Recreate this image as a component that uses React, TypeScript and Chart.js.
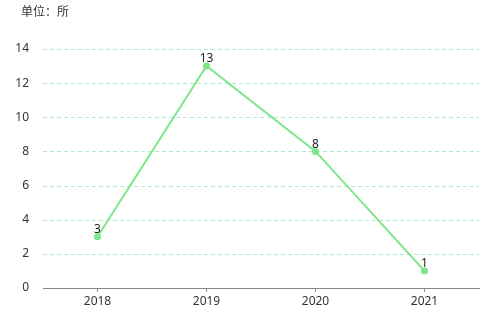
import React, { useEffect, useRef } from "react";
import { Chart, registerables } from "chart.js";

Chart.register(...registerables);

const categories = ["2018", "2019", "2020", "2021"];
const values = [3, 13, 8, 1];
const unitLabel = "单位：所";

const FONT = "'Noto Sans', 'Noto Sans CJK SC', sans-serif";
const GRID_COLOR = "#ade8d2";

const gridPlugin = {
  id: "dashedGrid",
  beforeDatasetsDraw(chart: any) {
    const ctx = chart.ctx;
    const y = chart.scales.y;
    const area = chart.chartArea;
    ctx.save();
    ctx.strokeStyle = GRID_COLOR;
    ctx.lineWidth = 1;
    ctx.setLineDash([4, 3]);
    y.ticks.forEach((t: any) => {
      if (t.value === 0) return;
      const py = Math.round(y.getPixelForValue(t.value)) + 0.5;
      ctx.beginPath();
      ctx.moveTo(area.left, py);
      ctx.lineTo(area.right, py);
      ctx.stroke();
    });
    ctx.restore();
  },
};

const labelsPlugin = {
  id: "valueLabels",
  afterDatasetsDraw(chart: any) {
    const ctx = chart.ctx;
    const meta = chart.getDatasetMeta(0);
    ctx.save();
    ctx.font = `12px ${FONT}`;
    ctx.fillStyle = "#222";
    ctx.textAlign = "center";
    ctx.textBaseline = "bottom";
    meta.data.forEach((pt: any, i: number) => {
      ctx.fillText(String(values[i]), pt.x, pt.y - 1);
    });
    ctx.restore();
  },
};

const titlePlugin = {
  id: "unitTitle",
  afterDraw(chart: any) {
    const ctx = chart.ctx;
    ctx.save();
    ctx.font = `12px ${FONT}`;
    ctx.fillStyle = "#333";
    ctx.textAlign = "left";
    ctx.textBaseline = "middle";
    ctx.fillText(unitLabel, 21, 13);
    ctx.restore();
  },
};

export default function App() {
  const ref = useRef<HTMLCanvasElement>(null);
  useEffect(() => {
    if (!ref.current) return;
    const chart = new Chart(ref.current, {
      type: "line",
      data: {
        labels: categories,
        datasets: [
          {
            data: values,
            borderColor: "#7de68a",
            backgroundColor: "#7de68a",
            borderWidth: 2,
            pointRadius: 2.5,
            pointHoverRadius: 2.5,
            tension: 0,
          },
        ],
      },
      options: {
        animation: false,
        responsive: false,
        maintainAspectRatio: false,
        layout: { padding: { left: 0, right: 21, top: 49, bottom: 0 } },
        plugins: {
          legend: { display: false },
          tooltip: { enabled: false },
          title: { display: false },
        },
        scales: {
          x: {
            offset: true,
            grid: {
              display: true,
              drawOnChartArea: false,
              drawTicks: true,
              tickLength: 4,
              color: "#888",
            },
            border: { display: true, color: "#888", width: 1 },
            ticks: { color: "#333", font: { family: FONT, size: 12 }, padding: 2 },
            afterFit: (s: any) => {
              s.height = 32;
            },
          },
          y: {
            min: 0,
            max: 14,
            ticks: { stepSize: 2, color: "#333", font: { family: FONT, size: 12 }, padding: 6 },
            grid: { display: false },
            border: { display: false },
            afterFit: (s: any) => {
              s.width = 43;
            },
          },
        },
      },
      plugins: [gridPlugin, labelsPlugin, titlePlugin],
    });
    return () => chart.destroy();
  }, []);
  return (
    <div style={{ position: "fixed", left: 0, top: 0, width: 500, height: 320, background: "#fff" }}>
      <canvas ref={ref} width={500} height={320} style={{ width: 500, height: 320 }} />
    </div>
  );
}
